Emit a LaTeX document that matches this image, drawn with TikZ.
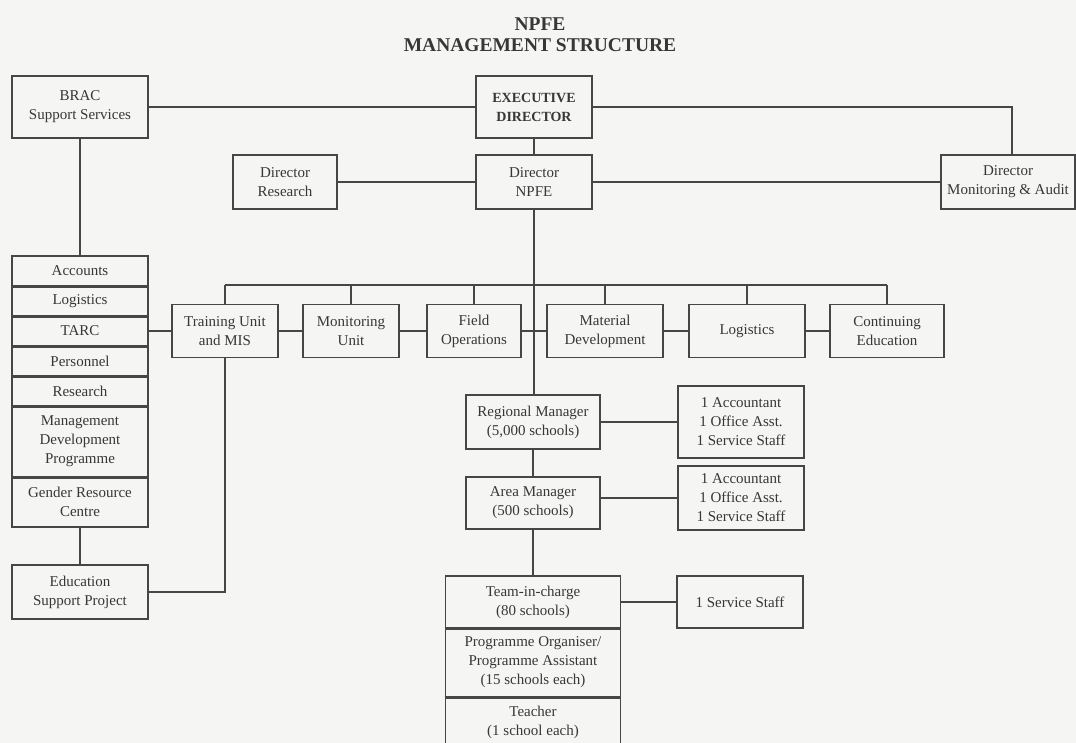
\documentclass[tikz,border=0pt]{standalone}
\usepackage{fontspec}
\setmainfont{Liberation Serif}
\definecolor{paper}{RGB}{245,245,243}
\definecolor{ink}{RGB}{55,55,55}
\definecolor{rule}{RGB}{70,70,70}
\begin{document}
\begin{tikzpicture}[x=1pt,y=-1pt,
  box/.style={draw=rule, line width=1.8pt, inner sep=0pt, align=center,
    text=ink, font=\fontsize{15}{19}\selectfont},
  link/.style={draw=rule, line width=1.8pt},
  sep/.style={draw=rule, line width=3pt},
  titletext/.style={text=ink, align=center, font=\fontsize{19.5}{21}\selectfont\bfseries}]

% page
\fill[paper] (0,0) rectangle (1076,743);
\useasboundingbox (0,0) rectangle (1076,743);

% title
\node[titletext] (title) at (540,35) {NPFE\\MANAGEMENT STRUCTURE};

% top level
\node[box, minimum width=136pt, minimum height=62pt] (brac) at (80,107) {BRAC\\Support Services};
\node[box, minimum width=116pt, minimum height=62pt, font=\fontsize{14}{19}\selectfont\bfseries] (exec) at (534,107) {EXECUTIVE\\DIRECTOR};
\node[box, minimum width=104pt, minimum height=54pt] (dres) at (285,182) {Director\\Research};
\node[box, minimum width=116pt, minimum height=54pt] (dnpfe) at (534,182) {Director\\NPFE};
\node[box, minimum width=134pt, minimum height=54pt] (dmon) at (1008,182) {Director\\Monitoring \& Audit};

% BRAC support stack
\node[box, minimum width=136pt, minimum height=30pt] (acc) at (80,271) {Accounts};
\node[box, minimum width=136pt, minimum height=30pt] (blog) at (80,301) {Logistics};
\node[box, minimum width=136pt, minimum height=30pt] (tarc) at (80,331) {TARC};
\node[box, minimum width=136pt, minimum height=30pt] (pers) at (80,361) {Personnel};
\node[box, minimum width=136pt, minimum height=30pt] (res) at (80,391) {Research};
\node[box, minimum width=136pt, minimum height=71pt] (mdp) at (80,441.5) {Management\\Development\\Programme};
\node[box, minimum width=136pt, minimum height=50pt] (grc) at (80,502) {Gender Resource\\Centre};
\node[box, minimum width=136pt, minimum height=54pt] (esp) at (80,592) {Education\\Support Project};

\foreach \n in {acc,blog,tarc,pers,res,mdp}
  \draw[sep] (\n.south west) -- (\n.south east);

% NPFE units
\node[box, minimum width=106pt, minimum height=53pt] (train) at (225,331) {Training Unit\\and MIS};
\node[box, minimum width=96pt, minimum height=53pt] (mon) at (351,331) {Monitoring\\Unit};
\node[box, minimum width=94pt, minimum height=53pt] (field) at (474,331) {Field\\Operations};
\node[box, minimum width=116pt, minimum height=53pt] (mat) at (605,331) {Material\\Development};
\node[box, minimum width=116pt, minimum height=53pt] (logi) at (747,331) {Logistics};
\node[box, minimum width=114pt, minimum height=53pt] (cont) at (887,331) {Continuing\\Education};

% field hierarchy
\node[box, minimum width=134pt, minimum height=54pt] (rm) at (533,422) {Regional Manager\\(5,000 schools)};
\node[box, minimum width=126pt, minimum height=72pt] (staffa) at (741,422) {1 Accountant\\1 Office Asst.\\1 Service Staff};
\node[box, minimum width=134pt, minimum height=52pt] (am) at (533,503) {Area Manager\\(500 schools)};
\node[box, minimum width=126pt, minimum height=64pt] (staffb) at (741,498) {1 Accountant\\1 Office Asst.\\1 Service Staff};
\node[box, minimum width=175pt, minimum height=52pt] (tic) at (533,602) {Team-in-charge\\(80 schools)};
\node[box, minimum width=175pt, minimum height=69pt] (po) at (533,662.5) {Programme Organiser/\\Programme Assistant\\(15 schools each)};
\node[box, minimum width=175pt, minimum height=51pt] (teach) at (533,722.5) {Teacher\\(1 school each)};
\node[box, minimum width=126pt, minimum height=52pt] (staffc) at (740,602) {1 Service Staff};

\foreach \n in {tic,po}
  \draw[sep] (\n.south west) -- (\n.south east);

% connectors: top level
\draw[link] (brac.east) -- (exec.west);
\draw[link] (exec.east) -| (1012,155) coordinate (dmontop);
\draw[link] (exec.south) -- (dnpfe.north);
\draw[link] (dres.east) -- (dnpfe.west);
\draw[link] (dnpfe.east) -- (dmon.west);
\draw[link] (brac.south) -- (acc.north);
\draw[link] (grc.south) -- (esp.north);
\draw[link] (esp.east) -| (train.south);

% bus to the units
\coordinate (busl) at (225,285);
\coordinate (busr) at (887,285);
\draw[link] (busl) -- (busr);
\foreach \n in {train,mon,field,mat,logi,cont}
  \draw[link] (\n.north) -- (\n.north |- busl);

% side links between neighbouring units
\draw[link] (tarc.east) -- (train.west);
\draw[link] (train.east) -- (mon.west);
\draw[link] (mon.east) -- (field.west);
\draw[link] (field.east) -- (mat.west);
\draw[link] (mat.east) -- (logi.west);
\draw[link] (logi.east) -- (cont.west);

% main trunk down to the schools
\draw[link] (dnpfe.south) -- (rm.north -| dnpfe.south) -- (rm.north);
\draw[link] (rm.south) -- (am.north);
\draw[link] (am.south) -- (tic.north);
\draw[link] (rm.east) -- (staffa.west);
\draw[link] (staffb.west) -- (staffb.west -| am.east);
\draw[link] (tic.east) -- (staffc.west);

\end{tikzpicture}
\end{document}
